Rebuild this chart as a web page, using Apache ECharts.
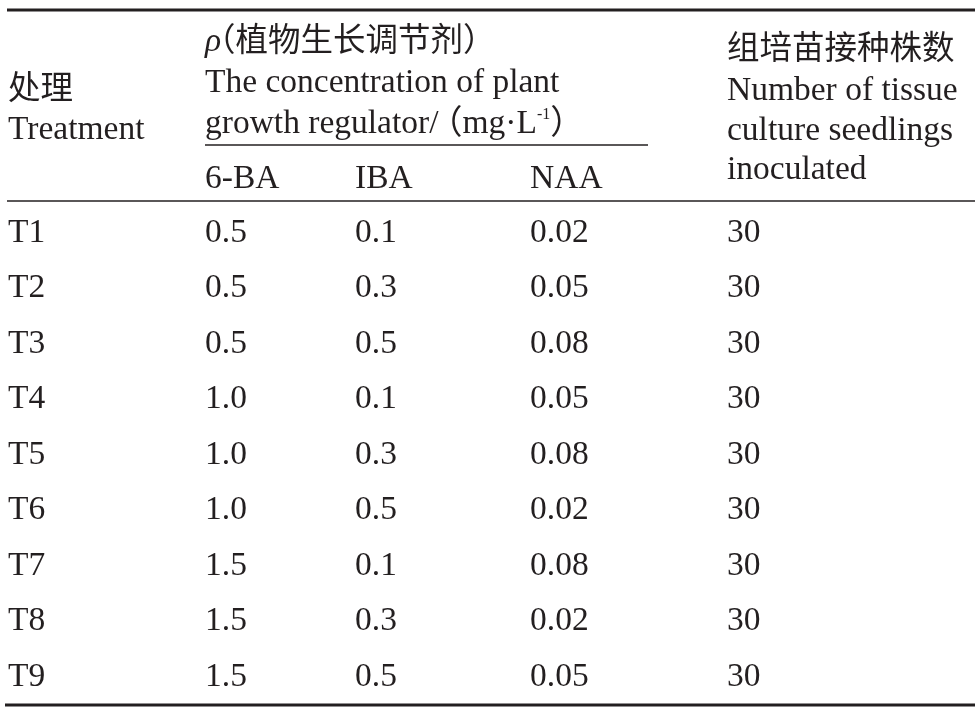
<!DOCTYPE html>
<html>
<head>
<meta charset="utf-8">
<script src="https://cdn.jsdelivr.net/npm/echarts@6/dist/echarts.min.js"></script>
<style>
  html, body { margin: 0; padding: 0; background: #fff; }
  #chart { width: 980px; height: 713px; }
</style>
</head>
<body>
<div id="chart"></div>
<script>
// table values
const treatments = ['T1', 'T2', 'T3', 'T4', 'T5', 'T6', 'T7', 'T8', 'T9'];
const ba6 = [0.5, 0.5, 0.5, 1.0, 1.0, 1.0, 1.5, 1.5, 1.5];
const iba = [0.1, 0.3, 0.5, 0.1, 0.3, 0.5, 0.1, 0.3, 0.5];
const naa = [0.02, 0.05, 0.08, 0.05, 0.08, 0.02, 0.08, 0.02, 0.05];
const seedlings = [30, 30, 30, 30, 30, 30, 30, 30, 30];
const subHeaders = ['6-BA', 'IBA', 'NAA'];

// layout
const colX = [8, 205, 355, 530, 727];
const FONT = '"Liberation Serif", "Times New Roman", "Noto Sans CJK SC", serif';
const INK = '#231f20';
const FS = 33.5;
const FS_CJK = 32.5;

const cells = [];
treatments.forEach(function (t, i) {
  const row = [t, ba6[i].toFixed(1), iba[i].toFixed(1), naa[i].toFixed(2), String(seedlings[i])];
  row.forEach(function (txt, c) {
    cells.push([colX[c], t, txt]);
  });
});

function headText(x, y, text, size, rich, italic) {
  return {
    type: 'text', x: x, y: y, silent: true,
    style: {
      text: text, fill: INK, font: (italic ? 'italic ' : '') + (size || FS) + 'px ' + FONT,
      align: 'left', verticalAlign: 'middle', rich: rich
    }
  };
}
function hLine(x1, x2, y, w) {
  return {
    type: 'line', silent: true,
    shape: { x1: x1, y1: y, x2: x2, y2: y },
    style: { stroke: INK, lineWidth: w }
  };
}

const richSup = {
  sup: { fontFamily: FONT, fontSize: 16, fill: INK, verticalAlign: 'top', padding: [0, 0, 14, 0] }
};

const chart = echarts.init(document.getElementById('chart'));
chart.setOption({
  animation: false,
  backgroundColor: '#fff',
  grid: { left: 0, right: 0, top: 205, height: 500 },
  xAxis: { type: 'value', min: 0, max: 980, show: false },
  yAxis: { type: 'category', data: treatments, inverse: true, show: false },
  graphic: [
    hLine(7, 975, 10, 3),
    hLine(205, 648, 145, 1.5),
    hLine(7, 975, 201, 1.5),
    hLine(5, 975, 705, 3),
    headText(colX[0], 90, '处理', FS_CJK),
    headText(colX[0], 130, 'Treatment'),
    headText(colX[1], 42, 'ρ', FS, null, true),
    headText(colX[1] - 2, 42, '（植物生长调节剂）', FS_CJK),
    headText(colX[1], 83, 'The concentration of plant'),
    headText(colX[1], 124, 'growth regulator/'),
    headText(429, 124, '（mg·L{sup|-1}）', FS, richSup),
    headText(colX[1], 179, subHeaders[0]),
    headText(colX[2], 179, subHeaders[1]),
    headText(colX[3], 179, subHeaders[2]),
    headText(colX[4], 50, '组培苗接种株数', FS_CJK),
    headText(colX[4], 91, 'Number of tissue'),
    headText(colX[4], 131, 'culture seedlings'),
    headText(colX[4], 170, 'inoculated')
  ],
  series: [{
    type: 'custom',
    silent: true,
    data: cells,
    encode: { x: 0, y: 1 },
    renderItem: function (params, api) {
      const p = api.coord([api.value(0), api.value(1)]);
      return {
        type: 'text', x: p[0], y: p[1],
        style: {
          text: cells[params.dataIndex][2], fill: INK,
          font: FS + 'px ' + FONT, align: 'left', verticalAlign: 'middle'
        }
      };
    }
  }]
});
</script>
</body>
</html>
